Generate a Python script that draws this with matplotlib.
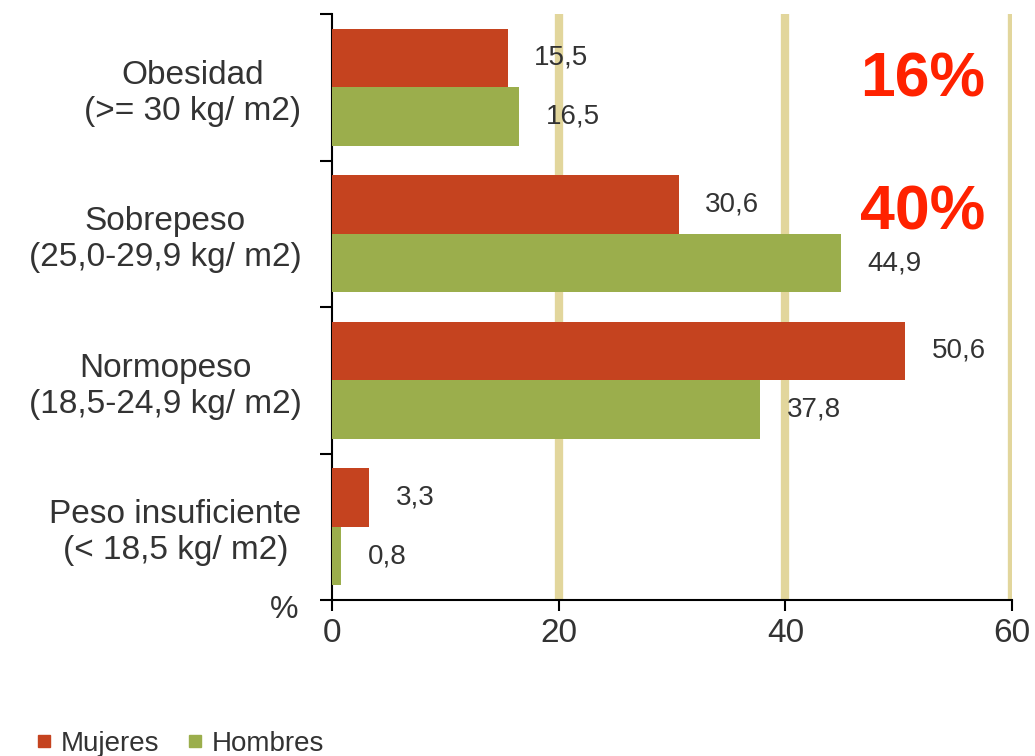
import numpy as np
import matplotlib.pyplot as plt
from matplotlib.lines import Line2D

# Indice de masa corporal por sexo (%)
categorias = ["Obesidad\n(>= 30 kg/ m2)",
              "Sobrepeso\n(25,0-29,9 kg/ m2)",
              "Normopeso\n(18,5-24,9 kg/ m2)",
              "Peso insuficiente\n(< 18,5 kg/ m2)"]
mujeres = [15.5, 30.6, 50.6, 3.3]
hombres = [16.5, 44.9, 37.8, 0.8]
resaltados = ["16%", "40%"]
x_ticks = [0, 20, 40, 60]

rojo = "#c5431f"
verde = "#9bae4c"
gris = "#333333"
rejilla = "#e2d69c"

plt.rcParams['font.family'] = ['Liberation Sans', 'DejaVu Sans']

fig = plt.figure(figsize=(10.35, 7.56), dpi=100)
ax = fig.add_axes([332 / 1035, 1 - 600 / 756, 680 / 1035, 586 / 756])

y = np.arange(len(categorias))
alto = 0.4
ax.barh(y - alto / 2, mujeres, height=alto, color=rojo, zorder=3)
ax.barh(y + alto / 2, hombres, height=alto, color=verde, zorder=3)

# etiquetas de valor con coma decimal
for i in range(len(categorias)):
    for val, dy in ((mujeres[i], -alto / 2), (hombres[i], alto / 2)):
        ax.annotate(f"{val:.1f}".replace(".", ","), xy=(val, y[i] + dy),
                    xytext=(19, 0), textcoords="offset points",
                    ha="left", va="center", fontsize=20, color=gris)

ax.set_xlim(0, 60)
ax.set_ylim(len(categorias) - 0.5, -0.5)

# rejilla vertical gruesa
for xv in x_ticks[1:]:
    ax.axvline(xv, color=rejilla, lw=6, zorder=1)

ax.set_xticks(x_ticks)
ax.set_xticklabels([str(v) for v in x_ticks], fontsize=24, color=gris)
ax.tick_params(axis="x", length=8, width=1.5, pad=5, direction="out")

ax.set_yticks(np.arange(len(categorias) + 1) - 0.5)
ax.set_yticklabels([])
ax.tick_params(axis="y", which="major", length=9, width=1.5)
ax.set_yticks(y, minor=True)
ax.set_yticklabels(categorias, minor=True, fontsize=24, color=gris)
ax.tick_params(axis="y", which="minor", length=0, pad=22)
for lab in ax.get_yticklabels(minor=True):
    lab.set_multialignment("center")

for s in ("top", "right"):
    ax.spines[s].set_visible(False)
ax.spines["left"].set_linewidth(1.5)
ax.spines["bottom"].set_linewidth(1.5)

fig.text(270 / 1035, 1 - 610 / 756, "%", fontsize=23, color=gris,
         ha="left", va="center")

# cifras destacadas en rojo
fig.text(923 / 1035, 1 - 80 / 756, resaltados[0], fontsize=45,
         fontweight="bold", color="#ff2200", ha="center", va="center")
fig.text(923 / 1035, 1 - 213 / 756, resaltados[1], fontsize=45,
         fontweight="bold", color="#ff2200", ha="center", va="center")

handles = [Line2D([], [], marker="s", ls="", color=rojo, markersize=8),
           Line2D([], [], marker="s", ls="", color=verde, markersize=8)]
fig.legend(handles, ["Mujeres", "Hombres"], loc="center left",
           bbox_to_anchor=(0.01, 1 - 744 / 756), ncol=2, frameon=False,
           fontsize=20, handlelength=0.6, handletextpad=0.3,
           columnspacing=1.0, labelcolor=gris)

fig.savefig("out.png", dpi=100, facecolor="white")
